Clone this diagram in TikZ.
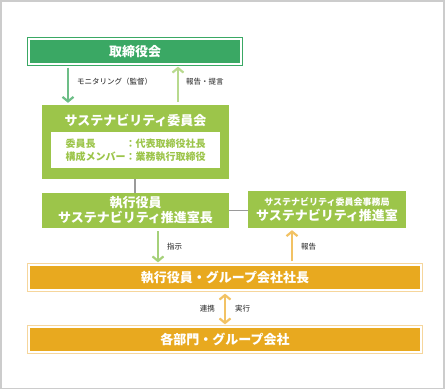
\documentclass[tikz,border=0pt]{standalone}
\usepackage{fontspec}
\setmainfont{Noto Sans CJK JP}
\newfontfamily\labelfont{Noto Sans CJK JP Medium}
\usetikzlibrary{arrows.meta}

\definecolor{boardgreen}{HTML}{3AA864}
\definecolor{downgreen}{HTML}{6DBE87}
\definecolor{iinkaigreen}{HTML}{9CC54A}
\definecolor{upgreen}{HTML}{B8DA8E}
\definecolor{shijigreen}{HTML}{A6D17A}
\definecolor{gold}{HTML}{E8A91F}
\definecolor{goldlight}{HTML}{F6D69C}
\definecolor{goldarrow}{HTML}{F2C264}
\definecolor{linkgrey}{HTML}{9A9A9A}
\definecolor{framegrey}{HTML}{CCCCCC}
\definecolor{labelgrey}{HTML}{444444}

\begin{document}
\begin{tikzpicture}[x=1pt,y=-1pt,
  title/.style={font=\fontsize{13}{15}\selectfont\bfseries,text=white,inner sep=0pt},
  boardbox/.style={title,fill=boardgreen,draw=white,line width=1.3pt,
    preaction={draw=boardgreen,line width=4pt}},
  iinkaibox/.style={title,fill=iinkaigreen,align=center},
  kaishabox/.style={title,fill=gold,draw=white,line width=1.3pt,
    preaction={draw=goldlight,line width=4pt}},
  memberbox/.style={fill=white,inner sep=0pt,align=left,text=iinkaigreen,
    font=\fontsize{10}{13}\selectfont\bfseries},
  lbl/.style={font=\labelfont\fontsize{7.5}{9}\selectfont,text=labelgrey,inner sep=0pt},
  arr/.style={line width=2.2pt,shorten <=3pt,shorten >=2pt,
    -{Straight Barb[length=4.5pt,width=11pt]}},
  link/.style={draw=linkgrey,line width=1.5pt}]
  \useasboundingbox (0,0) rectangle (446,390);
  \draw[framegrey,line width=1.5pt] (1,1) rectangle (444,388.5);

  \node[boardbox,minimum width=212pt,minimum height=25pt] (board) at (135,51.5) {取締役会};

  \node[iinkaibox,minimum width=187pt,minimum height=74pt] (iinkai) at (135.5,142) {};
  \node[title] (iinkaititle) at (135.5,120) {サステナビリティ委員会};
  \node[memberbox,minimum width=169pt,minimum height=36pt] (members) at (135.5,150)
    {委員長　　　：代表取締役社長\\構成メンバー：業務執行取締役};

  \node[iinkaibox,minimum width=187pt,minimum height=35pt] (shitsucho) at (135.5,210.5)
    {執行役員\\サステナビリティ推進室長};
  \node[iinkaibox,minimum width=158pt,minimum height=37pt] (jimukyoku) at (327,209.5)
    {{\fontsize{9}{11}\selectfont サステナビリティ委員会事務局}\\サステナビリティ推進室};

  \node[kaishabox,minimum width=392pt,minimum height=25pt] (shacho) at (225,277.5) {執行役員・グループ会社社長};
  \node[kaishabox,minimum width=392pt,minimum height=25pt] (bumon) at (225,339.5) {各部門・グループ会社};

  \draw[arr,downgreen] ([xshift=-67pt]board.south) -- ([xshift=-67pt]board.south |- iinkai.north);
  \draw[arr,upgreen] ([xshift=43pt]board.south |- iinkai.north) -- ([xshift=43pt]board.south);
  \node[lbl,anchor=west] (monitor) at (77,82) {モニタリング（監督）};
  \node[lbl,anchor=west] (teigen) at (186,82) {報告・提言};

  \draw[link] (iinkai.south -| board.south) -- (shitsucho.north -| board.south);
  \draw[link] (shitsucho.east) -- (shitsucho.east -| jimukyoku.west);

  \draw[arr,shijigreen] ([xshift=22.5pt]shitsucho.south) -- ([xshift=22.5pt]shitsucho.south |- shacho.north);
  \draw[arr,goldarrow] ([xshift=-35pt]jimukyoku.south |- shacho.north) -- ([xshift=-35pt]jimukyoku.south);
  \node[lbl,anchor=west] (shiji) at (167,247) {指示};
  \node[lbl,anchor=west] (houkoku) at (301,247) {報告};

  \draw[arr,goldarrow,{Straight Barb[length=4.5pt,width=11pt]}-{Straight Barb[length=4.5pt,width=11pt]}]
    (shacho.south) -- (bumon.north);
  \node[lbl,anchor=east] (renkei) at (215,309) {連携};
  \node[lbl,anchor=west] (jikkou) at (235,309) {実行};
\end{tikzpicture}
\end{document}
